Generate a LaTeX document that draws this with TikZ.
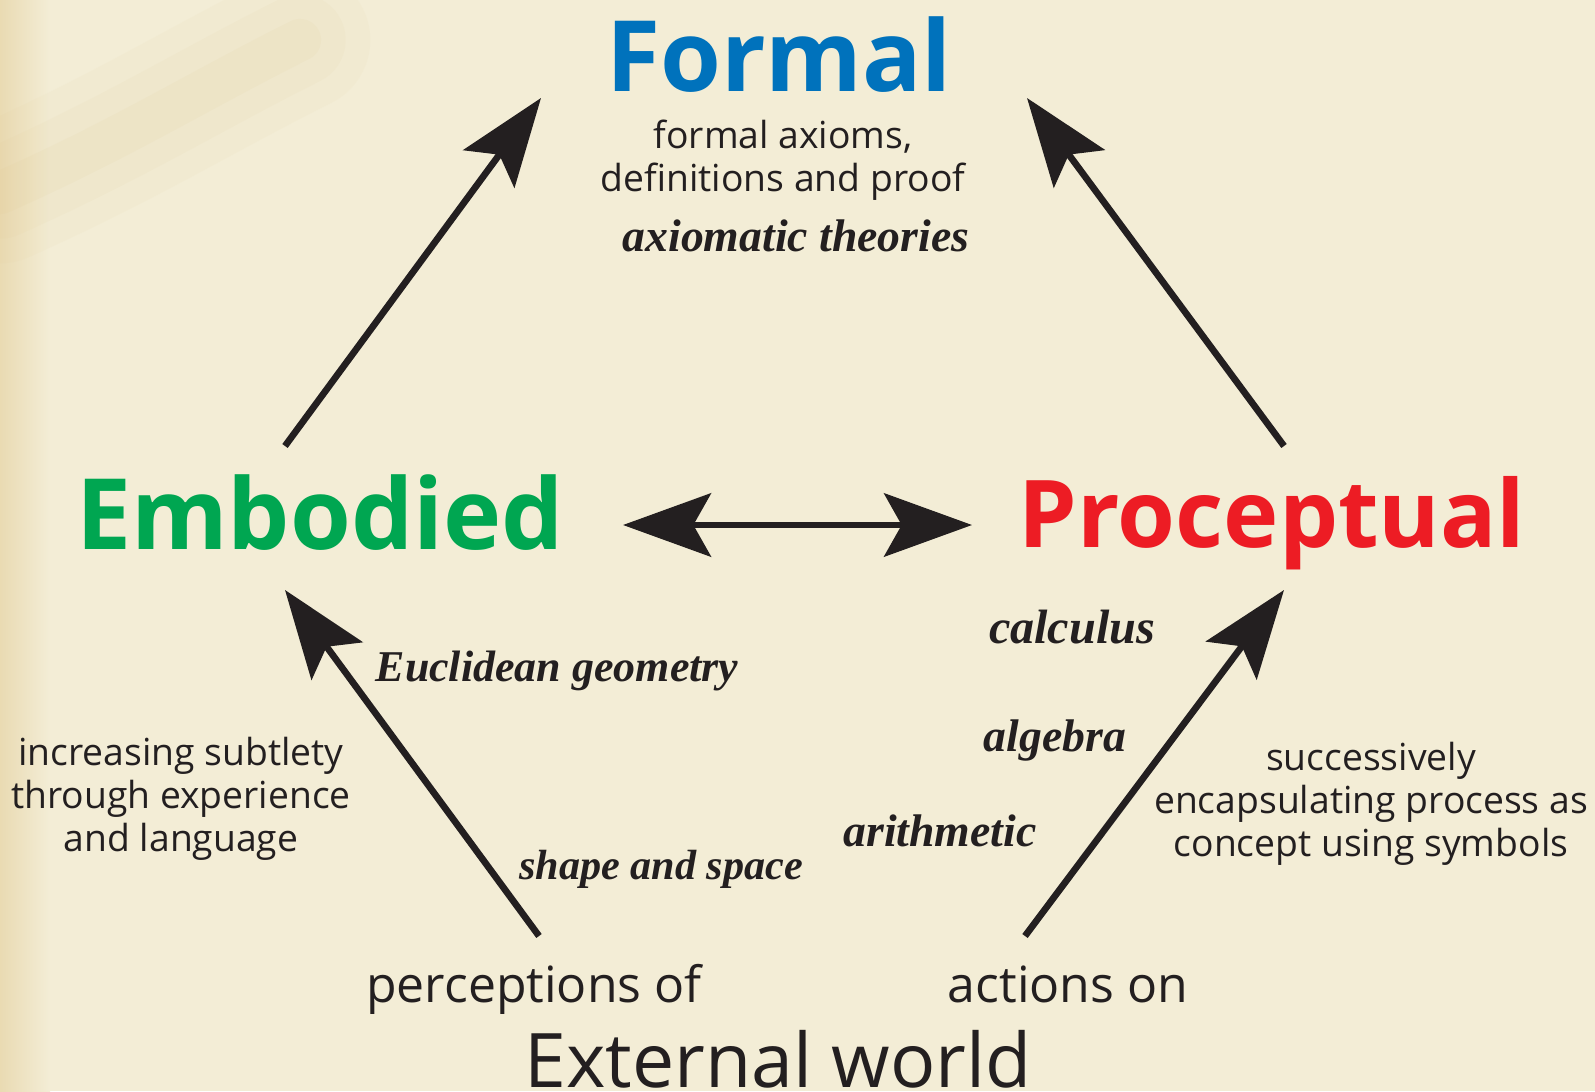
\documentclass[tikz,border=0pt]{standalone}
\usepackage{fontspec}
\setmainfont{Open Sans}
\newfontfamily\labelserif{Liberation Serif}
\usepackage{tikz}
\usetikzlibrary{arrows.meta}
\usepackage{xcolor}
\definecolor{formalblue}{RGB}{0,114,188}
\definecolor{embodiedgreen}{RGB}{0,166,81}
\definecolor{proceptred}{RGB}{237,28,36}
\definecolor{inkblack}{RGB}{35,31,32}
\definecolor{parchment}{RGB}{243,237,214}
\definecolor{stain}{RGB}{222,196,135}

\begin{document}
\begin{tikzpicture}[x=0.01cm, y=-0.01cm,
    every node/.style={inner sep=0pt, text=inkblack},
    world/.style={font=\bfseries\fontsize{28}{30}\selectfont, anchor=base},
    remark/.style={font=\fontsize{10.6}{12.2}\selectfont, align=center},
    topic/.style={font=\labelserif\bfseries\itshape\fontsize{#1}{15}\selectfont, anchor=base},
    topic/.default=13,
    bigtip/.tip={Stealth[length=25pt,width=18pt,inset=5pt]},
    growth/.style={-bigtip, line width=1.9pt, inkblack}]
  \useasboundingbox (0,0) rectangle (1595,1091);
  \clip (0,0) rectangle (1595,1091);
  % paper
  \fill[parchment] (0,0) rectangle (1595,1091);
  \shade[left color=stain!45!parchment, right color=parchment] (0,0) rectangle (50,1091);
  \foreach \w/\o in {40/0.05,26/0.06,12/0.08}
    \draw[stain, line width=\w pt, opacity=\o, line cap=round]
      (0,193) .. controls (120,140) and (200,90) .. (300,40);

  % the three worlds
  \node[world, text=formalblue] (formal) at (779,92) {Formal};
  \node[world, text=embodiedgreen] (embodied) at (320,549) {Embodied};
  \node[world, text=proceptred, font=\bfseries\fontsize{26.6}{30}\selectfont] (proceptual) at (1272,547) {Proceptual};

  \node[remark] (proof) at (783,160) {formal axioms,\\definitions and proof};
  \node[topic] (axiomatic) at (796,251) {axiomatic theories};
  \node[topic=12.5] (euclid) at (557,681) {Euclidean geometry};
  \node[topic=12] (shape) at (661,879) {shape and space};
  \node[topic=13.7] (calculus) at (1072,643) {calculus};
  \node[topic] (algebra) at (1055,751) {algebra};
  \node[topic] (arith) at (940,846) {arithmetic};
  \node[remark] (subtlety) at (181,799) {increasing subtlety\\through experience\\and language};
  \node[remark] (encaps) at (1371,804) {successively\\encapsulating process as\\concept using symbols};

  \node[font=\fontsize{14.2}{16}\selectfont, anchor=base] (percept) at (534,1002) {perceptions of};
  \node[font=\fontsize{14.2}{16}\selectfont, anchor=base] (actions) at (1068,1002) {actions on};
  \node[font=\fontsize{21.4}{24}\selectfont, anchor=base] (external) at (778,1087) {External world};

  % arrow ends
  \coordinate (embUp) at (285,446);
  \coordinate (formL) at (541,98);
  \coordinate (procUp) at (1284,446);
  \coordinate (formR) at (1027,98);
  \coordinate (perUp) at (539,936);
  \coordinate (embDn) at (285,590);
  \coordinate (actUp) at (1025,936);
  \coordinate (procDn) at (1284,590);
  \coordinate (embR) at (623,525);
  \coordinate (procL) at (972,525);

  \draw[growth] (embUp) -- (formL);
  \draw[growth] (procUp) -- (formR);
  \draw[growth] (perUp) -- (embDn);
  \draw[growth] (actUp) -- (procDn);
  \draw[growth, bigtip-bigtip] (embR) -- (procL);
\end{tikzpicture}
\end{document}
